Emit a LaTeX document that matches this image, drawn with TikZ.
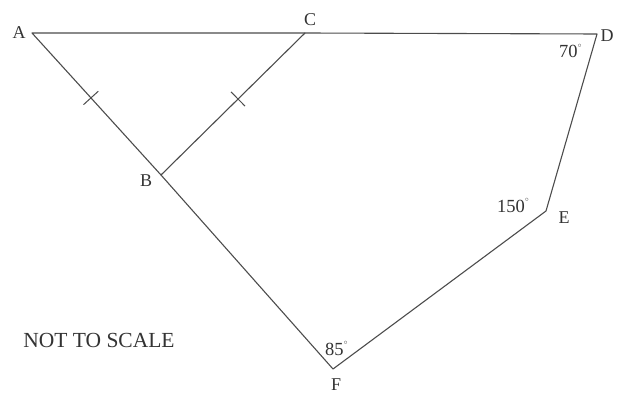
\documentclass[tikz,border=0pt]{standalone}
\usepackage{fontspec}
\setmainfont{Liberation Serif}
\usetikzlibrary{calc}
\begin{document}
\begin{tikzpicture}[x=1pt,y=-1pt,
  edge/.style={draw=black!70,line width=1.1pt,line cap=round,line join=round},
  tick/.style={draw=black!70,line width=1pt},
  lbl/.style={inner sep=0pt,font=\fontsize{18}{20}\selectfont,text=black!80},
  ang/.style={inner sep=0pt,anchor=base west,font=\fontsize{18.5}{20}\selectfont,text=black!80}]
\useasboundingbox (0,0) rectangle (617,395);
\coordinate (A) at (32,33);
\coordinate (C) at (305,33);
\coordinate (D) at (597,34);
\coordinate (E) at (546,211);
\coordinate (F) at (333,369);
\coordinate (B) at (161,175);
\path[edge] (A) -- (C) -- (D) -- (E) -- (F) -- (B) -- cycle;
\path[edge] (B) -- (C);
\coordinate (tAB) at ($(A)!0.457!(B)$);
\coordinate (tBC) at ($(B)!0.535!(C)$);
\path[tick] ($(tAB)!10pt!90:(B)$) -- ($(tAB)!10pt!-90:(B)$);
\path[tick] ($(tBC)!10pt!90:(C)$) -- ($(tBC)!10pt!-90:(C)$);
\node[lbl] (lA) at (19,33) {A};
\node[lbl] (lC) at (310,20) {C};
\node[lbl] (lB) at (146,181) {B};
\node[lbl] (lD) at (607,36) {D};
\node[lbl] (lE) at (564,218) {E};
\node[lbl] (lF) at (336,385) {F};
\node[ang] (a70) at (559,58) {70\raisebox{0.55em}{\fontsize{7}{7}\selectfont$\circ$}};
\node[ang] (a150) at (497,212) {150\raisebox{0.55em}{\fontsize{7}{7}\selectfont$\circ$}};
\node[ang] (a85) at (325,355) {85\raisebox{0.55em}{\fontsize{7}{7}\selectfont$\circ$}};
\node[inner sep=0pt,font=\fontsize{21.5}{23}\selectfont,text=black!80] (nts) at (99,340) {NOT TO SCALE};
\end{tikzpicture}
\end{document}
